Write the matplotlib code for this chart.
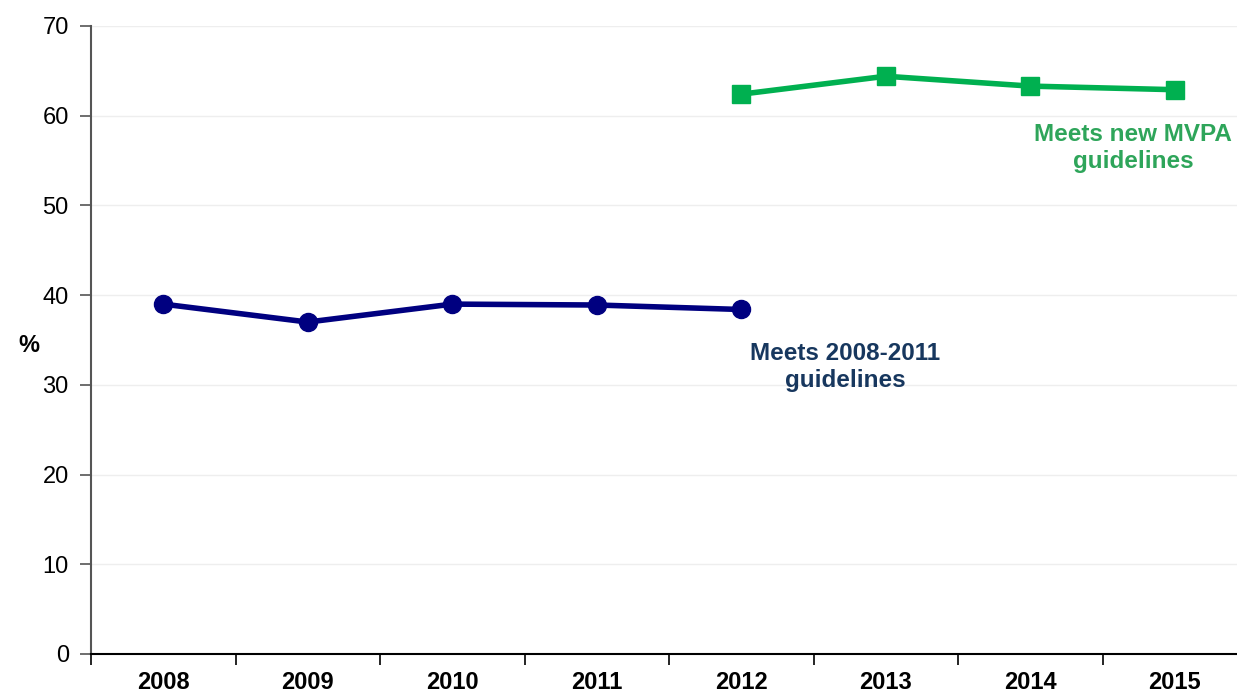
import matplotlib.pyplot as plt
import numpy as np

plt.rcParams['font.family'] = ['Liberation Sans', 'DejaVu Sans']

years = ["2008", "2009", "2010", "2011", "2012", "2013", "2014", "2015"]
old_years = ["2008", "2009", "2010", "2011", "2012"]
old_vals = [39.0, 37.0, 39.0, 38.9, 38.4]
new_years = ["2012", "2013", "2014", "2015"]
new_vals = [62.4, 64.4, 63.3, 62.9]

blue = "#000080"
green = "#00B050"

fig = plt.figure(figsize=(12.37, 6.9), dpi=100)
ax = fig.add_axes([91 / 1237, 36 / 690, 1156 / 1237, 628 / 690])

xi = {y: i for i, y in enumerate(years)}
ax.plot([xi[y] for y in old_years], old_vals, color=blue, lw=4, marker="o", ms=13, zorder=3)
ax.plot([xi[y] for y in new_years], new_vals, color=green, lw=4, marker="s", ms=13, zorder=3)

ax.set_xlim(-0.5, len(years) - 0.5)
ax.set_ylim(0, 70)
ax.set_yticks(np.arange(0, 71, 10))
ax.set_xticks(range(len(years)))
ax.set_xticklabels(years, fontweight="bold")
ax.set_xticks(np.arange(-0.5, len(years), 1), minor=True)
ax.tick_params(axis="x", which="major", length=0, pad=12, labelsize=17)
ax.tick_params(axis="x", which="minor", length=8, width=1.2, color="black")
ax.tick_params(axis="y", length=8, width=1.2, color="#555555", labelsize=17, pad=8)

ax.grid(axis="y", color="#eeeeee", lw=1)
ax.set_axisbelow(True)
for s in ["top", "right"]:
    ax.spines[s].set_visible(False)
ax.spines["left"].set_color("#555555")
ax.spines["left"].set_linewidth(1.5)
ax.spines["bottom"].set_color("black")
ax.spines["bottom"].set_linewidth(1.5)

ax.set_ylabel("%", rotation=0, fontsize=17, fontweight="bold", va="center", ha="center")
ax.yaxis.set_label_coords(-62 / 1156, (654 - 345) / 628)

ax.text(4.72, 32.0, "Meets 2008-2011\nguidelines", color="#17375E", fontsize=17.5,
        fontweight="bold", ha="center", va="center", linespacing=1.2)
ax.text(6.71, 56.4, "Meets new MVPA\nguidelines", color="#2EA55A", fontsize=17.5,
        fontweight="bold", ha="center", va="center", linespacing=1.2)

fig.savefig("out.png", dpi=100)
